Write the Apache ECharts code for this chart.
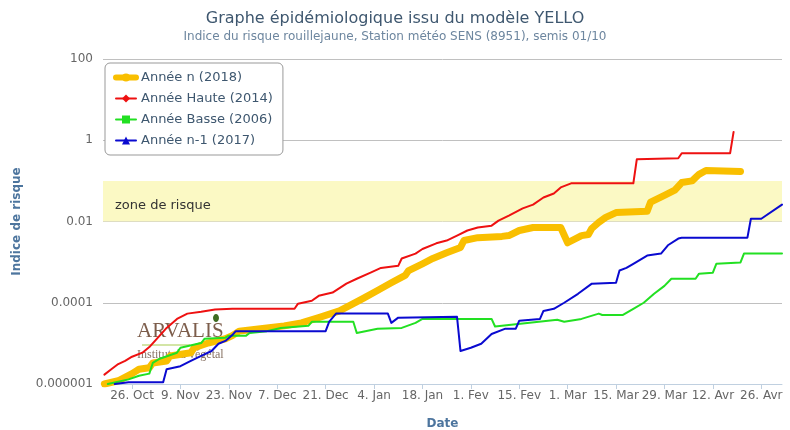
<!DOCTYPE html>
<html>
<head>
<meta charset="utf-8">
<title>Graphe YELLO</title>
<script src="https://cdn.jsdelivr.net/npm/echarts@6/dist/echarts.min.js"></script>
</head>
<body style="margin:0">
<div id="main" style="width:790px;height:430px;"></div>
<script type="text/javascript">
// calendrier de la campagne : oct 2017 -> mai 2018, dates en 'MM-JJ'
var tickDates = ['10-26', '11-09', '11-23', '12-07', '12-21', '01-04', '01-18', '02-01', '02-15', '03-01', '03-15', '03-29', '04-12', '04-26'];
var tickLabels = ['26. Oct', '9. Nov', '23. Nov', '7. Dec', '21. Dec', '4. Jan', '18. Jan', '1. Fev', '15. Fev', '1. Mar', '15. Mar', '29. Mar', '12. Avr', '26. Avr'];
var yTicks = [0.000001, 0.0001, 0.01, 1, 100];
var seriesNames = ['Année n (2018)', 'Année Haute (2014)', 'Année Basse (2006)', 'Année n-1 (2017)'];
var riskZone = [0.01, 0.1];

// Année n (2018)
var yellowDates = ['10-18', '10-22', '10-26', '10-28', '10-31', '11-01', '11-05', '11-06', '11-12', '11-13', '11-17', '11-22', '11-24', '11-26', '12-04', '12-09', '12-14', '12-19', '12-25', '12-29', '01-01', '01-05', '01-09', '01-13', '01-14', '01-18', '01-21', '01-25', '01-29', '01-30', '02-03', '02-10', '02-12', '02-15', '02-19', '02-27', '03-01', '03-05', '03-07', '03-08', '03-10', '03-12', '03-15', '03-24', '03-25', '03-29', '04-01', '04-03', '04-06', '04-08', '04-10', '04-20'];
var yellowValues = [1.0e-6, 1.2e-6, 1.8e-6, 2.3e-6, 2.5e-6, 3.3e-6, 3.7e-6, 4.9e-6, 5.9e-6, 7.8e-6, 1.02e-5, 1.3e-5, 1.55e-5, 2.0e-5, 2.4e-5, 2.7e-5, 3.2e-5, 4.3e-5, 6.3e-5, 9.5e-5, 1.3e-4, 2.0e-4, 3.1e-4, 4.7e-4, 6.2e-4, 9.1e-4, 1.23e-3, 1.7e-3, 2.3e-3, 3.4e-3, 4.0e-3, 4.3e-3, 4.5e-3, 6.0e-3, 7.1e-3, 7.1e-3, 3.0e-3, 4.5e-3, 4.8e-3, 6.8e-3, 9.5e-3, 1.26e-2, 1.66e-2, 1.8e-2, 3.0e-2, 4.4e-2, 5.9e-2, 9.1e-2, 0.10, 0.145, 0.18, 0.17];

// Année Haute (2014)
var redDates = ['10-18', '10-20', '10-22', '10-24', '10-26', '10-29', '10-31', '11-03', '11-05', '11-08', '11-11', '11-15', '11-19', '11-24', '12-12', '12-13', '12-17', '12-19', '12-23', '12-27', '12-30', '01-03', '01-06', '01-11', '01-12', '01-16', '01-18', '01-22', '01-25', '01-28', '01-31', '02-03', '02-07', '02-09', '02-12', '02-16', '02-19', '02-22', '02-25', '02-27', '03-02', '03-20', '03-21', '04-02', '04-03', '04-17', '04-18'];
var redValues = [1.7e-6, 2.3e-6, 3.1e-6, 3.7e-6, 4.7e-6, 5.9e-6, 8.1e-6, 1.55e-5, 2.4e-5, 4.0e-5, 5.4e-5, 6.0e-5, 6.8e-5, 7.1e-5, 7.1e-5, 9.5e-5, 1.12e-4, 1.48e-4, 1.78e-4, 2.95e-4, 3.9e-4, 5.5e-4, 7.2e-4, 8.1e-4, 1.23e-3, 1.62e-3, 2.1e-3, 2.9e-3, 3.4e-3, 4.5e-3, 6.0e-3, 7.1e-3, 7.9e-3, 1.05e-2, 1.4e-2, 2.1e-2, 2.6e-2, 3.9e-2, 4.9e-2, 6.9e-2, 8.7e-2, 8.7e-2, 0.34, 0.36, 0.48, 0.48, 1.6];

// Année Basse (2006)
var greenDates = ['10-19', '10-25', '10-28', '10-31', '11-01', '11-03', '11-08', '11-09', '11-15', '11-16', '11-22', '11-23', '11-28', '11-29', '12-04', '12-08', '12-16', '12-17', '12-29', '12-30', '01-05', '01-12', '01-16', '01-18', '02-07', '02-08', '02-18', '02-26', '02-28', '03-05', '03-10', '03-11', '03-17', '03-20', '03-23', '03-26', '03-29', '03-31', '04-07', '04-08', '04-12', '04-13', '04-20', '04-21', '05-02'];
var greenValues = [1.0e-6, 1.3e-6, 1.6e-6, 1.8e-6, 3.3e-6, 4.2e-6, 5.9e-6, 7.8e-6, 1.02e-5, 1.3e-5, 1.38e-5, 1.55e-5, 1.55e-5, 1.8e-5, 2.0e-5, 2.4e-5, 2.7e-5, 3.4e-5, 3.4e-5, 1.8e-5, 2.3e-5, 2.4e-5, 3.2e-5, 4.0e-5, 4.0e-5, 2.6e-5, 3.2e-5, 3.8e-5, 3.4e-5, 4.0e-5, 5.4e-5, 5.0e-5, 5.0e-5, 7.1e-5, 1.0e-4, 1.66e-4, 2.6e-4, 3.9e-4, 3.9e-4, 5.2e-4, 5.5e-4, 9.1e-4, 9.8e-4, 1.62e-3, 1.62e-3];

// Année n-1 (2017)
var blueDates = ['10-21', '10-25', '11-04', '11-05', '11-09', '11-12', '11-15', '11-18', '11-20', '11-22', '11-24', '11-25', '12-21', '12-22', '12-24', '01-08', '01-09', '01-11', '01-28', '01-29', '02-01', '02-04', '02-07', '02-11', '02-14', '02-15', '02-21', '02-22', '02-25', '02-28', '03-04', '03-08', '03-15', '03-16', '03-18', '03-20', '03-24', '03-28', '03-30', '04-02', '04-03', '04-22', '04-23', '04-26', '05-02'];
var blueValues = [1.0e-6, 1.1e-6, 1.1e-6, 2.3e-6, 2.75e-6, 3.7e-6, 4.9e-6, 6.5e-6, 9.8e-6, 1.15e-5, 1.6e-5, 2.0e-5, 2.0e-5, 3.4e-5, 5.4e-5, 5.4e-5, 3.2e-5, 4.3e-5, 4.5e-5, 6.5e-6, 7.8e-6, 9.8e-6, 1.7e-5, 2.3e-5, 2.3e-5, 3.6e-5, 4.0e-5, 6.3e-5, 7.1e-5, 1.0e-4, 1.66e-4, 2.95e-4, 3.1e-4, 6.2e-4, 7.2e-4, 9.1e-4, 1.45e-3, 1.62e-3, 2.6e-3, 3.8e-3, 4.0e-3, 4.0e-3, 1.17e-2, 1.17e-2, 2.6e-2];

// jour de campagne (0 = 1er octobre)
function day(md) {
    var m = +md.slice(0, 2), d = +md.slice(3);
    var y = m >= 8 ? 2017 : 2018;
    return (Date.UTC(y, m - 1, d) - Date.UTC(2017, 9, 1)) / 864e5;
}
function pairs(dates, values) {
    return dates.map(function (d, i) { return [day(d), values[i]]; });
}
var tickDays = tickDates.map(day);

function logLabel(v) {
    var e = Math.round(Math.log(v) / Math.LN10);
    if (e >= 0) return '1' + new Array(e + 1).join('0');
    return '0.' + new Array(-e).join('0') + '1';
}

var font = 'DejaVu Sans';
var myChart = echarts.init(document.getElementById('main'));

function lineSeries(name, data, color, width, symbol) {
    return {
        name: name,
        type: 'line',
        data: data,
        symbol: symbol,
        symbolSize: 8,
        showSymbol: false,
        itemStyle: { color: color },
        lineStyle: { color: color, width: width, cap: 'round', join: 'round' },
        emphasis: { disabled: true },
        animation: false
    };
}

var yellow = lineSeries(seriesNames[0], pairs(yellowDates, yellowValues), '#f9bf00', 7, 'circle');
yellow.markArea = {
    silent: true,
    itemStyle: { color: '#fbf9c4' },
    label: { show: true, position: 'insideLeft', distance: 12, color: '#333', fontFamily: font, fontSize: 13, offset: [0, 4] },
    data: [[{ yAxis: riskZone[0], name: 'zone de risque' }, { yAxis: riskZone[1] }]]
};

var option = {
    backgroundColor: '#fff',
    animation: false,
    title: {
        text: 'Graphe épidémiologique issu du modèle YELLO',
        subtext: 'Indice du risque rouillejaune, Station météo SENS (8951), semis 01/10',
        left: 'center',
        top: 6,
        itemGap: 4,
        textStyle: { fontFamily: font, fontSize: 16, fontWeight: 'normal', color: '#3E576F' },
        subtextStyle: { fontFamily: font, fontSize: 12, color: '#6D869F' }
    },
    legend: {
        orient: 'vertical',
        left: 105,
        top: 63,
        padding: [8, 10, 8, 8],
        itemGap: 8,
        itemWidth: 20,
        itemHeight: 10,
        borderColor: '#999',
        borderWidth: 1,
        borderRadius: 5,
        backgroundColor: '#fff',
        textStyle: { fontFamily: font, fontSize: 13, color: '#3E576F' },
        data: [
            { name: seriesNames[0], lineStyle: { width: 6 } },
            { name: seriesNames[1] },
            { name: seriesNames[2] },
            { name: seriesNames[3] }
        ]
    },
    graphic: [
        { type: 'text', left: 137, top: 321, z: 0, style: { text: 'ARVALIS', font: '21px "Liberation Serif"', fill: '#6e4b37', opacity: 0.9 } },
        { type: 'text', left: 137, top: 349, z: 0, style: { text: 'Institut du végétal', font: '12px "Liberation Serif"', fill: '#7b6454', opacity: 0.9 } },
        { type: 'line', z: 0, shape: { x1: 142, y1: 345, x2: 190, y2: 345 }, style: { stroke: '#c4dc88', lineWidth: 1.5 } },
        { type: 'ellipse', z: 0, shape: { cx: 216, cy: 318, rx: 3, ry: 4 }, style: { fill: '#3f6b22' } }
    ],
    grid: { left: 103, right: 8, top: 59, bottom: 46, outerBoundsMode: 'none' },
    xAxis: {
        type: 'value',
        min: day('10-17') + 0.6,
        max: day('05-02'),
        name: 'Date',
        nameLocation: 'middle',
        nameGap: 34,
        nameTextStyle: { fontFamily: font, fontSize: 12, fontWeight: 'bold', color: '#4d759e' },
        axisLine: { lineStyle: { color: '#C0D0E0' } },
        axisTick: { show: true, length: 5, customValues: tickDays, lineStyle: { color: '#C0D0E0' } },
        axisLabel: {
            customValues: tickDays,
            fontFamily: font,
            fontSize: 12,
            color: '#666',
            margin: 6,
            formatter: function (v) {
                var i = tickDays.indexOf(v);
                return i < 0 ? '' : tickLabels[i];
            }
        },
        splitLine: { show: false }
    },
    yAxis: {
        type: 'log',
        logBase: 10,
        min: 0.000001,
        max: 100,
        name: 'Indice de risque',
        nameLocation: 'middle',
        nameGap: 80,
        nameTextStyle: { fontFamily: font, fontSize: 12, fontWeight: 'bold', color: '#4d759e' },
        axisLine: { show: false },
        axisTick: { show: false, customValues: yTicks },
        axisLabel: { customValues: yTicks, fontFamily: font, fontSize: 12, color: '#666', margin: 10, padding: [0, 0, 8, 0], formatter: logLabel },
        splitLine: { lineStyle: { color: '#C0C0C0' } }
    },
    series: [
        yellow,
        lineSeries(seriesNames[1], pairs(redDates, redValues), '#ee1111', 2, 'diamond'),
        lineSeries(seriesNames[2], pairs(greenDates, greenValues), '#22e022', 2, 'rect'),
        lineSeries(seriesNames[3], pairs(blueDates, blueValues), '#0a0ad0', 2, 'triangle')
    ]
};

myChart.setOption(option);
</script>
</body>
</html>
